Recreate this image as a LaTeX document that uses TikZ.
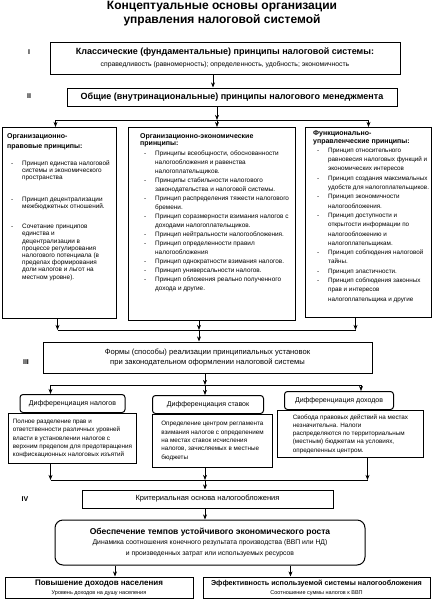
\documentclass[tikz,border=0pt]{standalone}
\usepackage{fontspec}
\setmainfont{Liberation Sans}
\usetikzlibrary{arrows.meta, positioning}

\newcommand{\pbul}{\hspace*{4pt}\makebox[11pt][l]{-}}
\newcommand{\pind}{\hspace*{15pt}}

\begin{document}
\begin{tikzpicture}[x=1pt, y=-1pt,
    plainbox/.style={rectangle, draw=black, line width=1pt, inner sep=0pt},
    mainbox/.style={plainbox, align=center},
    headbox/.style={
      rectangle, rounded corners=3pt, draw=black, line width=1pt,
      minimum height=18pt, align=center, font=\fontsize{7}{8}\selectfont
    },
    detbox/.style={plainbox, align=left, font=\fontsize{6.3}{8.3}\selectfont},
    txt/.style={inner sep=0pt, align=left, anchor=north west},
    num/.style={font=\fontsize{7}{8}\selectfont\bfseries},
    arr/.style={-{Stealth[length=1.8mm, width=1.4mm]}, line width=0.7pt}
  ]
    \useasboundingbox (0,0) rectangle (433,600);

    \node[font=\fontsize{12}{14}\selectfont\bfseries, align=center] (title) at (222,14)
      {Концептуальные основы организации\\управления налоговой системой};

    % levels
    \node[num] (nI) at (29,52) {I};
    \node[num] (nII) at (29,96) {II};
    \node[num] (nIII) at (26,362) {III};
    \node[num] (nIV) at (25,499) {IV};

    \node[mainbox, minimum width=350pt, minimum height=32pt, font=\fontsize{6.8}{11}\selectfont] (klass) at (225,58)
      {{\fontsize{9}{11}\selectfont\bfseries Классические (фундаментальные) принципы налоговой системы:}\\[1pt]
       справедливость (равномерность); определенность, удобность; экономичность};
    \node[mainbox, minimum width=330pt, minimum height=18pt, font=\fontsize{9}{11}\selectfont\bfseries] (obsh) at (232,97)
      {Общие (внутринациональные) принципы налогового менеджмента};

    % three groups of principles
    \node[plainbox, minimum width=114pt, minimum height=191pt, anchor=north west] (orgpr) at (2,127) {};
    \node[txt, font=\fontsize{6.4}{7.2}\selectfont] (orgprtxt) at ([shift={(5,6)}]orgpr.north west)
      {{\fontsize{7}{7.2}\selectfont\bfseries Организационно-}\\[2.8pt]
       {\fontsize{7}{7.2}\selectfont\bfseries правовые принципы:}\\[9.8pt]
       \pbul Принцип единства налоговой\\
       \pind системы и экономического\\
       \pind пространства\\[14.8pt]
       \pbul Принцип децентрализации\\
       \pind межбюджетных отношений.\\[12.8pt]
       \pbul Сочетание принципов\\
       \pind единства и\\
       \pind децентрализации в\\
       \pind процессе регулирования\\
       \pind налогового потенциала (в\\
       \pind пределах формирования\\
       \pind доли налогов и льгот на\\
       \pind местном уровне).};

    \node[plainbox, minimum width=167pt, minimum height=193pt, anchor=north west] (orgek) at (128,127) {};
    \node[txt, font=\fontsize{6.4}{9}\selectfont] (orgektxt) at ([shift={(12,6)}]orgek.north west)
      {{\fontsize{7}{8}\selectfont\bfseries Организационно-экономические}\\[-2pt]
       {\fontsize{7}{8}\selectfont\bfseries принципы:}\\[1pt]
       \pbul Принципы всеобщности, обоснованности\\
       \pind налогообложения и равенства\\
       \pind налогоплательщиков.\\
       \pbul Принципы стабильности налогового\\
       \pind законодательства и налоговой системы.\\
       \pbul Принцип распределения тяжести налогового\\
       \pind бремени.\\
       \pbul Принцип соразмерности взимания налогов с\\
       \pind доходами налогоплательщиков.\\
       \pbul Принцип нейтральности налогообложения.\\
       \pbul Принцип определенности правил\\
       \pind налогообложения\\
       \pbul Принцип однократности взимания налогов.\\
       \pbul Принцип универсальности налогов.\\
       \pbul Принцип обложения реально полученного\\
       \pind дохода и другие.};

    \node[plainbox, minimum width=126pt, minimum height=190pt, anchor=north west] (funk) at (305,127) {};
    \node[txt, font=\fontsize{6.3}{9.3}\selectfont] (funktxt) at ([shift={(8,3)}]funk.north west)
      {{\fontsize{7}{8}\selectfont\bfseries Функционально-}\\[-1.3pt]
       {\fontsize{7}{8}\selectfont\bfseries управленческие принципы:}\\
       \pbul Принцип относительного\\
       \pind равновесия налоговых функций и\\
       \pind экономических интересов\\
       \pbul Принцип создания максимальных\\
       \pind удобств для налогоплательщиков.\\
       \pbul Принцип экономичности\\
       \pind налогообложения.\\
       \pbul Принцип доступности и\\
       \pind открытости информации по\\
       \pind налогообложению и\\
       \pind налогоплательщикам.\\
       \pbul Принцип соблюдения налоговой\\
       \pind тайны.\\
       \pbul Принцип эластичности.\\
       \pbul Принцип соблюдения законных\\
       \pind прав и интересов\\
       \pind налогоплательщика и другие};

    \coordinate (split1) at (217,120);
    \draw[arr] ([xshift=-12pt]klass.south) -- ([xshift=-12pt]klass.south |- obsh.north);
    \draw[arr] (obsh.south -| split1) -- (split1);
    \draw[arr] (split1) -- (orgek.north -| split1);
    \draw[arr] (split1) -| ([xshift=-4pt]orgpr.north);
    \draw[arr] (split1) -| (funk.north);

    \node[mainbox, minimum width=329pt, minimum height=31pt, font=\fontsize{7.6}{10}\selectfont] (formy) at (207.5,357.5)
      {Формы (способы) реализации принципиальных установок\\при законодательном оформлении налоговой системы};

    \coordinate (join1) at (199,330);
    \draw[arr] ([xshift=-2pt]orgpr.south) -- ([xshift=-2pt]orgpr.south |- join1);
    \draw[arr] (orgek.south -| join1) -- (join1);
    \draw[arr] ([xshift=-13pt]funk.south) -- ([xshift=-13pt]funk.south |- join1);
    \draw ([xshift=-2pt]orgpr.south |- join1) -- ([xshift=-13pt]funk.south |- join1);
    \draw[arr] (join1) -- (formy.north -| join1);

    % differentiation
    \node[detbox, minimum width=128pt, minimum height=50pt, anchor=north west] (dnalt) at (8,413)
      {Полное разделение прав и\\
       ответственности различных уровней\\
       власти в установлении налогов с\\
       верхним пределом для предотвращения\\
       конфискационных налоговых изъятий};
    \node[detbox, minimum width=120pt, minimum height=53pt, anchor=north west] (dstavt) at (152,414)
      {Определение центром регламента\\
       взимания налогов с определением\\
       на местах ставок исчисления\\
       налогов, зачисляемых в местные\\
       бюджеты};
    \node[detbox, minimum width=146pt, minimum height=47pt, anchor=north west] (ddohodt) at (277,410)
      {Свобода правовых действий на местах\\
       незначительна. Налоги\\
       распределяются по территориальным\\
       (местным) бюджетам на условиях,\\
       определенных центром.};

    \node[headbox, minimum width=105pt, above=0pt of dnalt] (dnal) {Дифференциация налогов};
    \node[headbox, minimum width=111pt, above=0pt of dstavt.north west, anchor=south west] (dstav) {Дифференциация ставок};
    \node[headbox, minimum width=109pt, above=0pt of ddohodt.north west, anchor=south west, xshift=7pt] (ddohod) {Дифференциация доходов};

    \coordinate (split2) at (205,385);
    \draw[arr] (formy.south -| split2) -- (split2);
    \draw[arr] (split2) -- (dstav.north -| split2);
    \draw[arr] (split2) -| ([xshift=-22pt]dnal.north);
    \draw[arr] (split2) -| ([xshift=22pt]ddohod.north);

    \node[mainbox, minimum width=251pt, minimum height=18pt, font=\fontsize{7.5}{9}\selectfont] (krit) at (207.5,499)
      {Критериальная основа налогообложения};

    \coordinate (join2) at (205,480);
    \draw[arr] ([xshift=-22pt]dnalt.south) -- ([xshift=-22pt]dnalt.south |- join2);
    \draw[arr] (dstavt.south -| join2) -- (join2);
    \draw[arr] ([xshift=17pt]ddohodt.south) -- ([xshift=17pt]ddohodt.south |- join2);
    \draw ([xshift=-22pt]dnalt.south |- join2) -- ([xshift=17pt]ddohodt.south |- join2);
    \draw[arr] (join2) -- (krit.north -| join2);

    % criteria
    \node[mainbox, rounded corners=8pt, minimum width=310pt, minimum height=45pt, font=\fontsize{6.8}{11}\selectfont] (temp) at (210,542.5)
      {{\fontsize{8.5}{11}\selectfont\bfseries Обеспечение темпов устойчивого экономического роста}\\[-1pt]
       Динамика соотношения конечного результата производства (ВВП или НД)\\
       и произведенных затрат или используемых ресурсов};
    \draw[arr] (krit.south -| join2) -- (temp.north -| join2);

    \node[mainbox, minimum width=188pt, minimum height=21pt, font=\fontsize{5.5}{9}\selectfont] (dohod) at (99,587.5)
      {{\fontsize{8}{9}\selectfont\bfseries Повышение доходов населения}\\
       Уровень доходов на душу населения};
    \node[mainbox, minimum width=227pt, minimum height=21pt, font=\fontsize{5.5}{9}\selectfont] (effekt) at (316.5,587.5)
      {{\fontsize{7.2}{9}\selectfont\bfseries Эффективность используемой системы налогообложения}\\
       Соотношение суммы налогов к ВВП};

    \draw[arr] ([xshift=16pt]dohod.north |- temp.south) -- ([xshift=16pt]dohod.north);
    \draw[arr] ([xshift=-26pt]effekt.north |- temp.south) -- ([xshift=-26pt]effekt.north);
\end{tikzpicture}
\end{document}
